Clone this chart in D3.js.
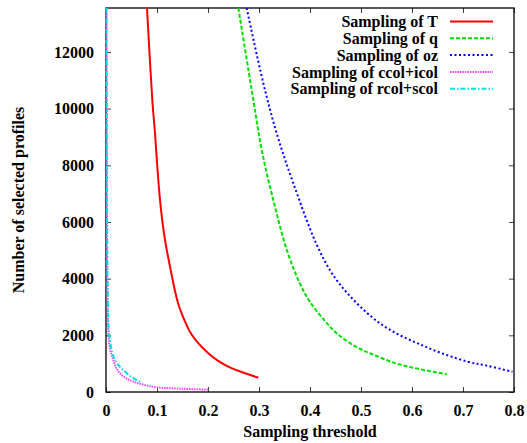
<!DOCTYPE html>
<html>
<head>
<meta charset="utf-8">
<script src="https://cdn.jsdelivr.net/npm/d3@7"></script>
<style>
  body { margin: 0; background: #fff; }
  svg text { font-family: "Liberation Serif", "DejaVu Serif", serif !important; font-weight: bold; }
</style>
</head>
<body>
<div class="chart"></div>
<script>
const w = 527;
const h = 443;
const margin = { top: 8, right: 13, bottom: 51, left: 106 };
const serif = '"Liberation Serif", "DejaVu Serif", serif';

// Sampling threshold vs number of selected profiles
const seriesNames = ['Sampling of T', 'Sampling of q', 'Sampling of oz', 'Sampling of ccol+icol', 'Sampling of rcol+scol'];
const seriesColors = ['#ff0000', '#00e000', '#0000ff', '#ff40ff', '#00e0e0'];
const seriesDash = [null, '4,2', '2,2.5', '1.5,1', '5,2,1.5,2'];

const tT = [[0.0804, 13550], [0.0908, 10305], [0.0961, 9130], [0.1006, 7950], [0.1059, 6780], [0.1137, 5600], [0.1255, 4420], [0.141, 3150], [0.155, 2480], [0.166, 2080], [0.18, 1740], [0.2006, 1370], [0.22, 1100], [0.246, 840], [0.27, 680], [0.2986, 505]];
const tQ = [[0.2595, 13550], [0.2889, 10305], [0.3053, 8540], [0.328, 6776], [0.3548, 5000], [0.3804, 3820], [0.40, 3180], [0.432, 2450], [0.455, 2030], [0.49, 1600], [0.521, 1340], [0.57, 1000], [0.612, 820], [0.668, 624]];
const tOz = [[0.2758, 13550], [0.3085, 10894], [0.3347, 9129], [0.3673, 7365], [0.418, 5011], [0.457, 3836], [0.537, 2424], [0.626, 1600], [0.709, 1070], [0.7464, 930], [0.797, 716]];
const tCcol = [[0.001, 13550], [0.002, 6000], [0.003, 3500], [0.005, 2000], [0.008, 1500], [0.0144, 1130], [0.02, 850], [0.0275, 660], [0.04, 480], [0.0536, 364], [0.075, 250], [0.0994, 165], [0.15, 115], [0.2006, 85]];
const tRcol = [[0.001, 13550], [0.002, 7000], [0.003, 4000], [0.005, 2300], [0.008, 1800], [0.012, 1400], [0.0176, 1130], [0.025, 930], [0.034, 776], [0.045, 600], [0.055, 470], [0.0667, 364]];
const seriesData = [tT, tQ, tOz, tCcol, tRcol];

const xTicks = [0, 0.1, 0.2, 0.3, 0.4, 0.5, 0.6, 0.7, 0.8];
const yTicks = [0, 2000, 4000, 6000, 8000, 10000, 12000];

const svg = d3.select('.chart').append('svg').attr('width', w).attr('height', h);

const xScale = d3.scaleLinear().domain([0, 0.8]).range([margin.left, w - margin.right]);
const yScale = d3.scaleLinear().domain([0, 13550]).range([h - margin.bottom, margin.top]);

svg.append('clipPath').attr('id', 'plot-clip')
  .append('rect')
  .attr('x', margin.left - 1).attr('y', margin.top)
  .attr('width', w - margin.left - margin.right + 1)
  .attr('height', h - margin.top - margin.bottom);

// axes with inward ticks, mirrored on top and right
const fmtX = (d) => (d === 0 ? '0' : d3.format('.1f')(d));
const xAxis = d3.axisBottom(xScale).tickValues(xTicks).tickSizeInner(-5).tickSizeOuter(0).tickPadding(13).tickFormat(fmtX);
const xAxisTop = d3.axisTop(xScale).tickValues(xTicks).tickSizeInner(-5).tickSizeOuter(0).tickFormat('');
const yAxis = d3.axisLeft(yScale).tickValues(yTicks).tickSizeInner(-5).tickSizeOuter(0).tickPadding(12).tickFormat(d3.format('d'));
const yAxisRight = d3.axisRight(yScale).tickValues(yTicks).tickSizeInner(-5).tickSizeOuter(0).tickFormat('');

function styleAxis(g) {
  g.attr('font-family', serif);
  g.select('.domain').remove();
  g.selectAll('line').attr('stroke', '#444');
  g.selectAll('text').attr('fill', '#000').style('font-size', '16px');
}

svg.append('g').attr('transform', `translate(0,${h - margin.bottom})`).call(xAxis).call(styleAxis);
svg.append('g').attr('transform', `translate(0,${margin.top})`).call(xAxisTop).call(styleAxis);
svg.append('g').attr('transform', `translate(${margin.left},0)`).call(yAxis).call(styleAxis);
svg.append('g').attr('transform', `translate(${w - margin.right},0)`).call(yAxisRight).call(styleAxis);

// frame
svg.append('rect')
  .attr('x', margin.left).attr('y', margin.top)
  .attr('width', w - margin.left - margin.right)
  .attr('height', h - margin.top - margin.bottom)
  .attr('fill', 'none').attr('stroke', '#000').attr('stroke-width', 1.3);

// curves
const line = d3.line()
  .x((d) => xScale(d[0]))
  .y((d) => yScale(d[1]))
  .curve(d3.curveCatmullRom.alpha(0.5));

seriesData.forEach((data, i) => {
  svg.append('path')
    .datum(data)
    .attr('clip-path', 'url(#plot-clip)')
    .attr('fill', 'none')
    .attr('stroke', seriesColors[i])
    .attr('stroke-width', 2)
    .attr('stroke-dasharray', seriesDash[i])
    .attr('d', line);
});

// legend
const legend = svg.append('g').attr('font-family', serif);
seriesNames.forEach((name, i) => {
  const y = 21.5 + i * 16.8;
  legend.append('text')
    .attr('x', 438).attr('y', y)
    .attr('dy', '0.35em')
    .attr('text-anchor', 'end')
    .style('font-size', '16px')
    .text(name);
  legend.append('line')
    .attr('x1', 450).attr('x2', 493)
    .attr('y1', y).attr('y2', y)
    .attr('stroke', seriesColors[i])
    .attr('stroke-width', 2)
    .attr('stroke-dasharray', seriesDash[i]);
});

// axis titles
svg.append('text')
  .attr('x', (margin.left + w - margin.right) / 2)
  .attr('y', 437)
  .attr('text-anchor', 'middle')
  .style('font-size', '16px')
  .text('Sampling threshold');

svg.append('text')
  .attr('transform', `translate(24,${(margin.top + h - margin.bottom) / 2}) rotate(-90)`)
  .attr('text-anchor', 'middle')
  .style('font-size', '16px')
  .text('Number of selected profiles');
</script>
</body>
</html>
